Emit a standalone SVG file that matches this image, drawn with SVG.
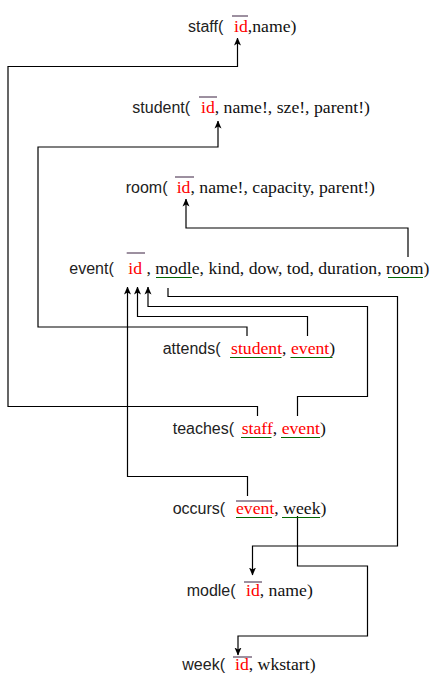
<svg xmlns="http://www.w3.org/2000/svg" width="438" height="687" viewBox="0 0 438 687">
<style>
.s{font-family:"Liberation Sans",Arial,sans-serif;font-size:16px;fill:#222}
.t{font-family:"Liberation Serif","Times New Roman",serif;font-size:17.7px;fill:#111}
.k{fill:#ff0000}
.ov{stroke:#3a2040;stroke-width:1}
.ul{stroke:#006600;stroke-width:1}
.c{fill:none;stroke:#000;stroke-width:1.2}
</style>
<defs>
<marker id="arr" markerUnits="userSpaceOnUse" markerWidth="8" markerHeight="8" viewBox="0 0 8 8" refX="7.5" refY="4" orient="auto">
<path d="M0,0.5 L8,4 L0,7.5 L2,4 z" fill="#000"/>
</marker>
</defs>
<rect width="438" height="687" fill="#fff"/>
<g id="connectors">
<path class="c" marker-end="url(#arr)" d="M257.5,416 V406.5 H8 V66.5 H237.5 V38"/>
<path class="c" marker-end="url(#arr)" d="M247,336 V327 H38 V147 H218 V121"/>
<path class="c" marker-end="url(#arr)" d="M408,257 V228 H186 V199"/>
<path class="c" marker-end="url(#arr)" d="M307.5,336 V316.5 H137.5 V287"/>
<path class="c" marker-end="url(#arr)" d="M297.5,416 V396.5 H367.5 V306.5 H148 V287"/>
<path class="c" marker-end="url(#arr)" d="M247.5,496 V476.5 H127.5 V287"/>
<path class="c" marker-end="url(#arr)" d="M168,288 V296.5 H397.5 V546 H252.5 V575"/>
<path class="c" marker-end="url(#arr)" d="M297.5,516 V566 H367.5 V636 H238 V655"/>
</g>
<g id="staff">
<text class="s" x="188" y="32">staff(</text>
<text class="t" x="234" y="32"><tspan class="k">id</tspan>,name)</text>
<line class="ov" x1="232" y1="16" x2="248" y2="16"/>
</g>
<g id="student">
<text class="s" x="132.3" y="113">student(</text>
<text class="t" x="201" y="113"><tspan class="k">id</tspan>, name!, sze!, parent!)</text>
<line class="ov" x1="199" y1="97" x2="217" y2="97"/>
</g>
<g id="room">
<text class="s" x="125.7" y="193">room(</text>
<text class="t" x="176.7" y="193"><tspan class="k">id</tspan>, name!, capacity, parent!)</text>
<line class="ov" x1="175" y1="177" x2="194" y2="177"/>
</g>
<g id="event">
<text class="s" x="69.3" y="274">event(</text>
<text class="t" x="128.3" y="274"><tspan class="k">id</tspan> , modle, kind, dow, tod, duration, room)</text>
<line class="ov" x1="126.7" y1="253" x2="145" y2="253"/>
<line class="ul" x1="156" y1="277.5" x2="192" y2="277.5"/>
<line class="ul" x1="388" y1="277.5" x2="423" y2="277.5"/>
</g>
<g id="attends">
<text class="s" x="162.7" y="354">attends(</text>
<text class="t" x="231" y="354"><tspan class="k">student</tspan>, <tspan class="k">event</tspan>)</text>
<line class="ul" x1="230" y1="357.5" x2="281.5" y2="357.5"/>
<line class="ul" x1="290.5" y1="357.5" x2="332.5" y2="357.5"/>
</g>
<g id="teaches">
<text class="s" x="172.7" y="434">teaches(</text>
<text class="t" x="241.7" y="434"><tspan class="k">staff</tspan>, <tspan class="k">event</tspan>)</text>
<line class="ul" x1="241" y1="437.5" x2="271.5" y2="437.5"/>
<line class="ul" x1="281" y1="437.5" x2="320" y2="437.5"/>
</g>
<g id="occurs">
<text class="s" x="172.7" y="514">occurs(</text>
<text class="t" x="236" y="514"><tspan class="k">event</tspan>, week)</text>
<line class="ov" x1="236" y1="501" x2="272" y2="501"/>
<line class="ul" x1="236" y1="517.5" x2="272" y2="517.5"/>
<line class="ul" x1="282" y1="517.5" x2="320" y2="517.5"/>
</g>
<g id="modle">
<text class="s" x="186.7" y="596">modle(</text>
<text class="t" x="246" y="596"><tspan class="k">id</tspan>, name)</text>
<line class="ov" x1="244" y1="582" x2="262" y2="582"/>
</g>
<g id="week">
<text class="s" x="182.3" y="670">week(</text>
<text class="t" x="235" y="670"><tspan class="k">id</tspan>, wkstart)</text>
<line class="ov" x1="233" y1="657" x2="252" y2="657"/>
</g>
</svg>
